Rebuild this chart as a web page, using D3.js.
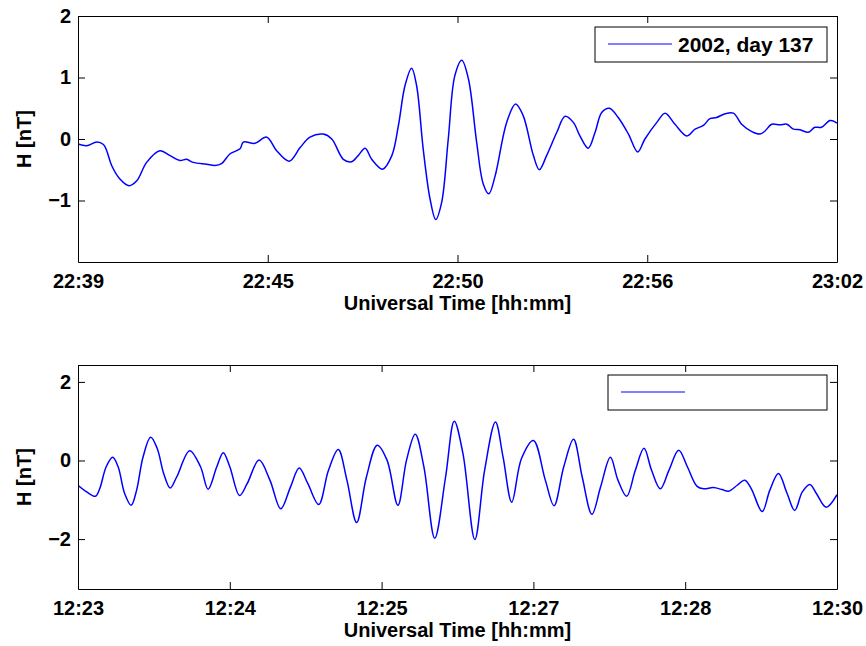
<!DOCTYPE html>
<html>
<head>
<meta charset="utf-8">
<script src="https://cdn.jsdelivr.net/npm/d3@7"></script>
<style>
body{margin:0;background:#fff;}
text{font-family:"Liberation Sans",Arial,sans-serif;font-weight:bold;fill:#000;}
</style>
</head>
<body>
<svg id="chart"></svg>
<script>
// upper panel, minutes after 22:39 UT
var topMinutes = [0,0.26,0.57,0.77,0.87,1.02,1.27,1.55,1.78,2.08,2.48,2.79,3.09,3.29,3.49,3.90,4.15,4.35,4.61,4.91,5.01,5.36,5.72,6.02,6.40,6.73,7.03,7.43,7.69,8.04,8.29,8.49,8.70,8.90,9.23,9.51,9.71,9.91,10.11,10.26,10.46,10.67,10.84,11.02,11.22,11.42,11.63,11.83,12.08,12.28,12.45,12.64,12.99,13.26,13.49,13.80,13.98,14.20,14.51,14.76,15.01,15.21,15.46,15.67,15.87,16.10,16.37,16.68,16.96,17.18,17.54,17.79,18.09,18.45,18.70,18.95,19.15,19.35,19.61,19.86,20.11,20.42,20.67,20.82,21.02,21.27,21.48,21.68,21.88,22.13,22.33,22.53,22.79,23.0];
var topValues = [-0.08,-0.11,-0.05,-0.09,-0.19,-0.43,-0.65,-0.76,-0.68,-0.38,-0.19,-0.27,-0.35,-0.33,-0.38,-0.41,-0.43,-0.40,-0.24,-0.16,-0.05,-0.07,0.03,-0.19,-0.36,-0.14,0.03,0.08,0.00,-0.33,-0.37,-0.27,-0.15,-0.33,-0.49,-0.27,0.22,0.87,1.15,0.87,-0.16,-0.98,-1.31,-1.03,0.00,1.03,1.28,0.98,-0.05,-0.73,-0.89,-0.60,0.27,0.57,0.38,-0.27,-0.50,-0.27,0.11,0.37,0.27,0.05,-0.15,0.11,0.43,0.50,0.35,0.08,-0.21,0.00,0.27,0.42,0.24,0.05,0.16,0.22,0.33,0.35,0.41,0.42,0.24,0.12,0.08,0.13,0.24,0.23,0.24,0.16,0.15,0.11,0.19,0.19,0.30,0.26];
var topTickLabels = ["22:39","22:45","22:50","22:56","23:02"];
var topYTicks = [-1,0,1,2];
var topLegend = "2002, day 137";

// lower panel, minutes after 12:23 UT
var botMinutes = [0,0.08,0.16,0.20,0.26,0.32,0.37,0.43,0.49,0.54,0.60,0.67,0.73,0.79,0.85,0.91,1.03,1.13,1.20,1.28,1.34,1.40,1.49,1.56,1.67,1.77,1.87,1.96,2.04,2.12,2.22,2.31,2.40,2.48,2.57,2.66,2.76,2.85,2.95,3.03,3.11,3.19,3.29,3.39,3.47,3.55,3.66,3.75,3.85,3.92,4.00,4.09,4.20,4.31,4.39,4.48,4.57,4.65,4.74,4.82,4.91,4.98,5.06,5.14,5.22,5.29,5.37,5.45,5.54,5.62,5.71,5.77,5.86,5.94,6.00,6.08,6.15,6.21,6.31,6.38,6.46,6.54,6.61,6.68,6.75,6.81,6.90,7.00];
var botValues = [-0.63,-0.80,-0.91,-0.72,-0.16,0.08,-0.16,-0.84,-1.14,-0.76,0.09,0.59,0.31,-0.33,-0.70,-0.42,0.25,-0.16,-0.73,-0.16,0.20,-0.16,-0.89,-0.59,0.01,-0.50,-1.23,-0.67,-0.19,-0.59,-1.12,-0.25,0.28,-0.50,-1.58,-0.42,0.39,0.01,-1.14,0.01,0.67,-0.16,-1.98,-0.42,1.00,0.18,-2.01,-0.25,0.98,0.09,-1.06,0.05,0.51,-0.50,-1.15,-0.16,0.54,-0.42,-1.37,-0.67,0.08,-0.50,-0.91,-0.25,0.31,-0.25,-0.72,-0.25,0.26,-0.16,-0.66,-0.72,-0.69,-0.74,-0.78,-0.63,-0.50,-0.72,-1.30,-0.76,-0.33,-0.84,-1.27,-0.80,-0.61,-0.84,-1.19,-0.87];
var botTickLabels = ["12:23","12:24","12:25","12:27","12:28","12:30"];
var botYTicks = [-2,0,2];
var botLegend = "";

var xLabel = "Universal Time [hh:mm]";
var yLabel = "H [nT]";

var svgwidth = 866;
var svgheight = 646;
var svg = d3.select('#chart').attr('width',svgwidth).attr('height',svgheight);

var tickLen = 7;

var drawPanel = function(p){

  var xScale = d3.scaleLinear()
                 .domain([0,p.span])
                 .range([78,837]);
  var yScale = d3.scaleLinear()
                 .domain(p.ydomain)
                 .range([p.bottom,p.top]);

  var step = p.span/(p.tickLabels.length-1);
  var xTicks = p.tickLabels.map(function(d,i){return i*step;});

  var g = svg.append('g');

  var clipId = 'clip'+p.top;
  g.append('clipPath').attr('id',clipId)
   .append('rect')
   .attr('x',xScale(0)).attr('y',p.top)
   .attr('width',xScale(p.span)-xScale(0)).attr('height',p.bottom-p.top);

  var line = d3.line()
               .x(function(d){return xScale(d[0]);})
               .y(function(d){return yScale(d[1]);})
               .curve(d3.curveCatmullRom.alpha(0.5));

  g.append('path')
   .datum(d3.zip(p.minutes,p.values))
   .attr('clip-path','url(#'+clipId+')')
   .attr('d',line)
   .attr('fill','none')
   .attr('stroke','#0000ff')
   .attr('stroke-width',1.5)
   .attr('stroke-linejoin','round');

  // bottom axis with labels
  var xAxis = d3.axisBottom(xScale)
                .tickValues(xTicks)
                .tickFormat(function(d,i){return p.tickLabels[i];})
                .tickSizeInner(-tickLen).tickSizeOuter(0).tickPadding(12);
  g.append('g').attr('class','axis')
   .attr('transform','translate(0,'+p.bottom+')')
   .call(xAxis);

  // mirrored top axis
  g.append('g').attr('class','axis')
   .attr('transform','translate(0,'+p.top+')')
   .call(d3.axisTop(xScale).tickValues(xTicks).tickFormat('')
          .tickSizeInner(-tickLen).tickSizeOuter(0));

  var yAxis = d3.axisLeft(yScale)
                .tickValues(p.yTicks)
                .tickFormat(d3.format('d'))
                .tickSizeInner(-tickLen).tickSizeOuter(0).tickPadding(7);
  g.append('g').attr('class','axis')
   .attr('transform','translate(78,0)')
   .call(yAxis);

  g.append('g').attr('class','axis')
   .attr('transform','translate(837,0)')
   .call(d3.axisRight(yScale).tickValues(p.yTicks).tickFormat('')
          .tickSizeInner(-tickLen).tickSizeOuter(0));

  g.selectAll('.axis text').style('font-size','20px').style('font-family','"Liberation Sans",Arial,sans-serif').style('font-weight','bold');
  g.selectAll('.axis path, .axis line').attr('stroke','#000').attr('stroke-width',1);

  g.append('text')
   .attr('x',(xScale(0)+xScale(p.span))/2)
   .attr('y',p.bottom+48)
   .attr('text-anchor','middle')
   .style('font-size','20px')
   .text(xLabel);

  g.append('text')
   .attr('transform','translate(31,'+((p.top+p.bottom)/2)+') rotate(-90)')
   .attr('text-anchor','middle')
   .style('font-size','20px')
   .text(yLabel);

  // legend
  var lg = g.append('g');
  lg.append('rect')
    .attr('x',p.legend[0]).attr('y',p.legend[1])
    .attr('width',827-p.legend[0]).attr('height',35)
    .attr('fill','#fff').attr('stroke','#000').attr('stroke-width',1);
  lg.append('line')
    .attr('x1',p.legend[0]+13).attr('x2',p.legend[0]+77)
    .attr('y1',p.legend[1]+17).attr('y2',p.legend[1]+17)
    .attr('stroke','#0000ff').attr('stroke-width',1.2);
  lg.append('text')
    .attr('x',p.legend[0]+83).attr('y',p.legend[1]+25)
    .style('font-size','21px')
    .text(p.legendText);
}

drawPanel({
  minutes:topMinutes, values:topValues, span:23,
  tickLabels:topTickLabels, yTicks:topYTicks, ydomain:[-2,2],
  top:16, bottom:262, legend:[595,27], legendText:topLegend
});

drawPanel({
  minutes:botMinutes, values:botValues, span:7,
  tickLabels:botTickLabels, yTicks:botYTicks, ydomain:[-3.27,2.43],
  top:365, bottom:589, legend:[608,375], legendText:botLegend
});
</script>
</body>
</html>
